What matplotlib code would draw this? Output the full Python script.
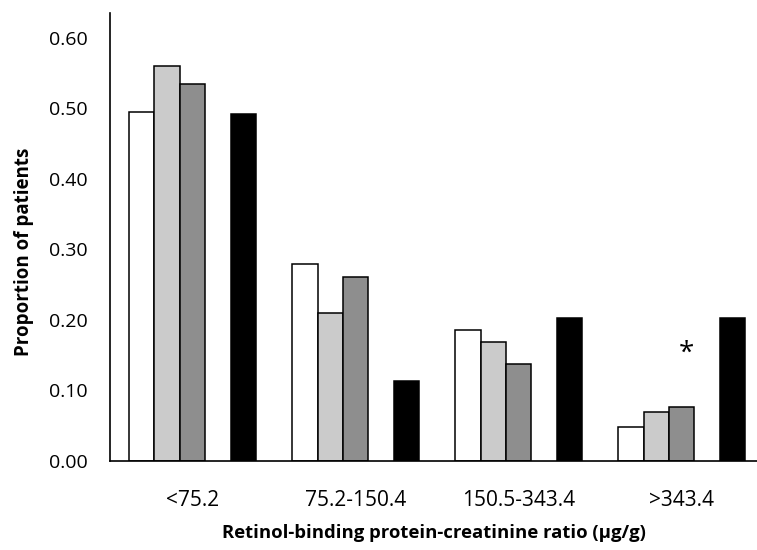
import matplotlib
matplotlib.use("Agg")
import matplotlib.pyplot as plt
import numpy as np

categories = ["<75.2", "75.2-150.4", "150.5-343.4", ">343.4"]
series_white = [0.495, 0.279, 0.186, 0.048]
series_light = [0.560, 0.210, 0.168, 0.070]
series_dark = [0.535, 0.261, 0.138, 0.076]
series_black = [0.492, 0.113, 0.202, 0.202]
yticks = [0.0, 0.1, 0.2, 0.3, 0.4, 0.5, 0.6]

plt.rcParams['font.family'] = ['Open Sans', 'DejaVu Sans']

fig = plt.figure(figsize=(7.57, 5.5), dpi=100)
ax = fig.add_axes([110/757, 89/550, 1 - 110/757, 448/550])

stride = 6.42
first = 0.75
w = 1.0
g = np.arange(len(categories))
base = first + stride * g
colors = ["white", "#cbcbcb", "#8e8e8e", "black"]
offsets = [0, 1, 2, 4]
for vals, c, off in zip([series_white, series_light, series_dark, series_black], colors, offsets):
    ax.bar(base + off, vals, width=w, align='edge', color=c, edgecolor='black', linewidth=1.1)

ax.text(base[3] + 2.7, 0.152, "*", ha='center', va='center', fontsize=20)

ax.set_xlim(0, 647/25.4)
ax.set_ylim(0, 0.635)
ax.set_yticks(yticks)
ax.set_yticklabels([f"{v:.2f}" for v in yticks], fontsize=14)
ax.set_xticks(base + 2.5)
ax.set_xticklabels(categories, fontsize=15)
ax.tick_params(axis='both', length=0)
ax.tick_params(axis='y', pad=16)
ax.tick_params(axis='x', pad=21)
for s in ['top', 'right']:
    ax.spines[s].set_visible(False)
ax.spines['left'].set_linewidth(1.2)
ax.spines['bottom'].set_linewidth(1.2)
ax.set_ylabel("Proportion of patients", fontsize=13.5, fontweight='bold')
ax.yaxis.set_label_coords((34-110)/647, (461-252)/448)
ax.set_xlabel("Retinol-binding protein-creatinine ratio (μg/g)", fontsize=13.3, fontweight='bold')
ax.xaxis.set_label_coords(0.5, -(524-461)/448)

fig.savefig("out.png", dpi=100)
